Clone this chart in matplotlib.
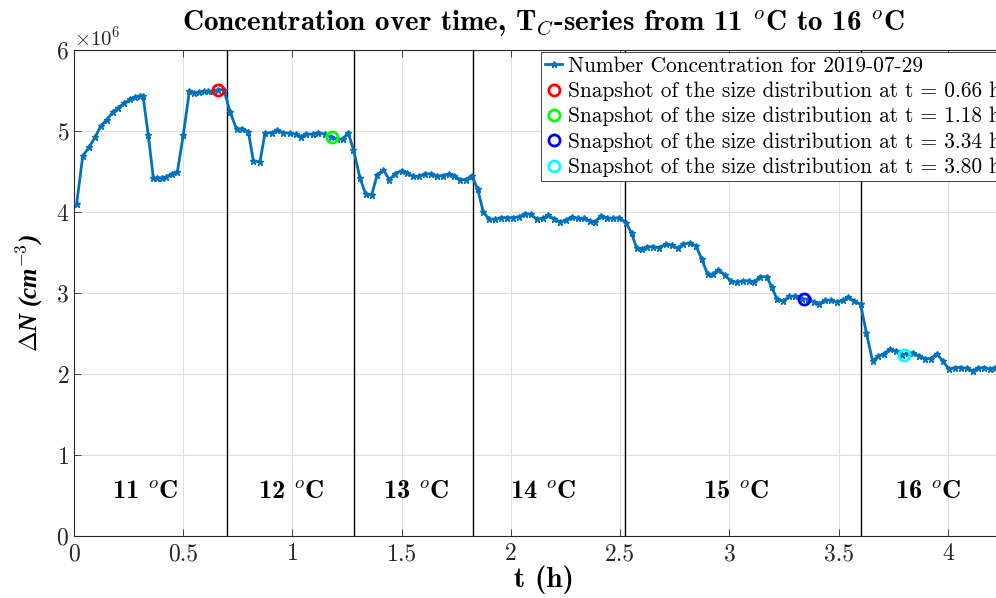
import numpy as np
import matplotlib
matplotlib.use('Agg')
import matplotlib.pyplot as plt

plt.rcParams['font.family'] = 'cmr10'
plt.rcParams['mathtext.fontset'] = 'cm'
plt.rcParams['axes.formatter.use_mathtext'] = True

# --- number concentration, 2019-07-29 (in units of 1e6 cm^-3) ---
t_h = [0.012, 0.040, 0.069, 0.096, 0.122, 0.150, 0.177, 0.203, 0.229, 0.256,
       0.281, 0.300, 0.316, 0.340, 0.363, 0.381, 0.401, 0.421, 0.447, 0.473,
       0.500, 0.528, 0.549, 0.574, 0.595, 0.615, 0.638, 0.660, 0.686, 0.714,
       0.744, 0.767, 0.798, 0.821, 0.851, 0.874, 0.905, 0.931, 0.958, 0.989,
       1.016, 1.039, 1.062, 1.092, 1.118, 1.149, 1.176, 1.202, 1.230, 1.255,
       1.279, 1.309, 1.335, 1.362, 1.388, 1.416, 1.443, 1.469, 1.500, 1.525,
       1.553, 1.580, 1.606, 1.632, 1.660, 1.687, 1.716, 1.739, 1.767, 1.794,
       1.820, 1.848, 1.873, 1.901, 1.927, 1.954, 1.983, 2.011, 2.038, 2.064,
       2.090, 2.118, 2.145, 2.171, 2.198, 2.224, 2.252, 2.278, 2.308, 2.336,
       2.362, 2.384, 2.412, 2.438, 2.465, 2.496, 2.526, 2.552, 2.575, 2.598,
       2.624, 2.651, 2.677, 2.708, 2.735, 2.763, 2.789, 2.819, 2.847, 2.873,
       2.900, 2.923, 2.949, 2.979, 3.005, 3.033, 3.060, 3.089, 3.114, 3.140,
       3.170, 3.193, 3.216, 3.246, 3.274, 3.300, 3.330, 3.361, 3.387, 3.411,
       3.437, 3.465, 3.491, 3.518, 3.544, 3.570, 3.600, 3.627, 3.655, 3.681,
       3.707, 3.735, 3.762, 3.788, 3.816, 3.841, 3.869, 3.895, 3.922, 3.948,
       3.976, 4.005, 4.032, 4.058, 4.085, 4.113, 4.139, 4.165, 4.192, 4.215]
conc_e6 = [4.10, 4.69, 4.80, 4.92, 5.06, 5.14, 5.23, 5.29, 5.34, 5.39,
           5.42, 5.43, 5.43, 4.95, 4.42, 4.42, 4.42, 4.43, 4.47, 4.49,
           4.95, 5.49, 5.47, 5.48, 5.49, 5.49, 5.49, 5.51, 5.51, 5.24,
           5.02, 5.03, 4.99, 4.63, 4.62, 4.97, 4.98, 5.01, 4.98, 4.97,
           4.96, 4.93, 4.96, 4.96, 4.98, 4.96, 4.92, 4.90, 4.90, 4.98,
           4.77, 4.42, 4.22, 4.21, 4.46, 4.52, 4.40, 4.47, 4.51, 4.48,
           4.44, 4.44, 4.47, 4.47, 4.44, 4.45, 4.47, 4.45, 4.40, 4.40,
           4.45, 4.28, 4.00, 3.91, 3.91, 3.93, 3.93, 3.93, 3.94, 3.98,
           3.97, 3.91, 3.92, 3.96, 3.91, 3.88, 3.90, 3.94, 3.92, 3.92,
           3.89, 3.88, 3.95, 3.93, 3.92, 3.93, 3.87, 3.74, 3.55, 3.54,
           3.57, 3.57, 3.56, 3.60, 3.59, 3.55, 3.60, 3.62, 3.58, 3.42,
           3.23, 3.23, 3.29, 3.22, 3.15, 3.13, 3.15, 3.15, 3.14, 3.20,
           3.20, 3.08, 2.93, 2.90, 2.96, 2.96, 2.93, 2.92, 2.89, 2.87,
           2.91, 2.91, 2.89, 2.91, 2.95, 2.90, 2.86, 2.50, 2.16, 2.22,
           2.25, 2.31, 2.28, 2.23, 2.26, 2.26, 2.22, 2.19, 2.19, 2.25,
           2.16, 2.06, 2.08, 2.08, 2.07, 2.04, 2.07, 2.08, 2.06, 2.08]

# snapshots of the size distribution
snap_t = [0.66, 1.18, 3.34, 3.80]
snap_conc_e6 = [5.51, 4.92, 2.93, 2.23]
snap_colors = ['red', 'lime', 'blue', 'cyan']

# temperature steps
step_bounds = [0.700, 1.281, 1.826, 2.522, 3.602]
step_temps = [11, 12, 13, 14, 15, 16]
step_label_t = [0.325, 0.993, 1.565, 2.147, 3.03, 3.91]

t = np.array(t_h)
conc = np.array(conc_e6) * 1e6

fig = plt.figure(figsize=(9.96, 5.98), dpi=100)
ax = fig.add_axes([0.0743, 0.1037, 0.9433, 0.8127])

for tb in step_bounds:
    ax.plot([tb, tb], [0, 6e6], color='k', lw=1.0, zorder=2)

ax.plot(t, conc, color='#0072BD', lw=2, marker='*', ms=4.5, zorder=3,
        label='Number Concentration for 2019-07-29')
for ts, cs, col in zip(snap_t, snap_conc_e6, snap_colors):
    ax.plot(ts, cs * 1e6, 'o', mfc='none', mec=col, mew=2, ms=8, zorder=4,
            label=f'Snapshot of the size distribution at t = {ts:.2f} h')

for xl, temp in zip(step_label_t, step_temps):
    ax.text(xl, 0.54e6, f'{temp} $^o$C', fontfamily='cmb10', fontsize=19,
            ha='center', va='center')

ax.set_xlim(0, 4.3)
ax.set_ylim(0, 6e6)
ax.set_xticks(np.arange(0, 4.01, 0.5))
ax.set_xticklabels(['0', '0.5', '1', '1.5', '2', '2.5', '3', '3.5', '4'])
ax.set_yticks(np.arange(0, 6.01e6, 1e6))
ax.grid(True, color='0.88', lw=0.8)
ax.set_axisbelow(True)
ax.tick_params(direction='in', top=True, right=True, labelsize=17, length=5,
               width=0.6, colors='0.15', labelcolor='0.15')
ax.tick_params(axis='x', pad=5)
for s in ax.spines.values():
    s.set_linewidth(0.8)
    s.set_color('0.15')
ax.yaxis.get_offset_text().set_fontsize(15)
ax.yaxis.get_offset_text().set_y(1.015)

ax.set_xlabel('t (h)', fontfamily='cmb10', fontsize=21, labelpad=0)
ax.set_ylabel(r'$\mathbf{\Delta}$N (cm$^{-3}$)', fontfamily='Liberation Serif',
              fontweight='bold', fontstyle='italic', fontsize=18, labelpad=8)
ax.set_title(r'Concentration over time, T$_C$-series from 11 $^o$C to 16 $^o$C',
             fontfamily='cmb10', fontsize=21, pad=14)

leg = ax.legend(loc='upper left', bbox_to_anchor=(541 / 996, 1 - 52 / 598),
                bbox_transform=fig.transFigure, fontsize=15.4, fancybox=False,
                framealpha=1, edgecolor='0.15', handlelength=0.8,
                handletextpad=0.25, borderpad=0.2, labelspacing=0.27,
                borderaxespad=0)
leg.get_frame().set_linewidth(0.6)

fig.savefig('out.png', dpi=100, facecolor='white')
